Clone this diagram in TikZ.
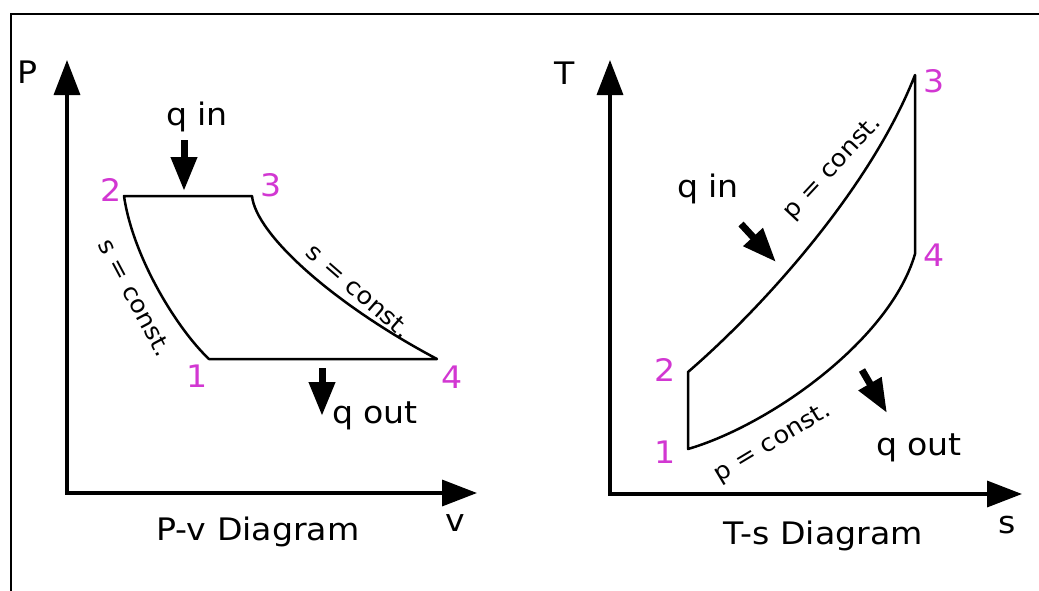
\documentclass[tikz,border=0pt]{standalone}
\usepackage{fontspec}
\setmainfont{DejaVu Sans}[FakeStretch=1.07]
\usetikzlibrary{arrows.meta}
\definecolor{mag}{RGB}{210,55,210}
\begin{document}
\begin{tikzpicture}[x=1pt,y=-1pt,
  lbl/.style={font=\fontsize{31}{36}\selectfont, inner sep=0pt},
  num/.style={lbl, text=mag},
  clbl/.style={font=\fontsize{24}{28}\selectfont, inner sep=0pt},
  axisline/.style={line width=3.5pt, line join=miter,
    {Triangle[length=35pt,width=26pt]}-{Triangle[length=35pt,width=26pt]}},
  loopline/.style={line width=2.5pt, line join=round},
  heat/.style={line width=7pt, -{Triangle[length=34pt,width=25pt]}}]
\useasboundingbox (0,0) rectangle (1039,590);
\clip (0,0) rectangle (1039,590);
\fill[white] (0,0) rectangle (1039,590);
\draw[line width=2.5pt] (11,14) rectangle (1100,700);

% ---------- P-v diagram ----------
\coordinate (ao) at (67,493);
\coordinate (ay) at (67,60);
\coordinate (ax) at (477,493);
\draw[axisline] (ay) -- (ao) -- (ax);
\node[lbl] (P) at (28,72) {P};
\node[lbl] (v) at (455,523) {v};
\node[lbl, anchor=base] (pvd) at (258,540) {P-v Diagram};

\coordinate (a1) at (209,359);
\coordinate (a2) at (124,196);
\coordinate (a3) at (252,196);
\coordinate (a4) at (437,359);
\draw[loopline] (a1) -- (a4) .. controls (335,305) and (256,235) .. (a3) -- (a2)
  .. controls (133,258) and (178,330) .. (a1) -- cycle;
\node[num] (n2a) at (111,190) {2};
\node[num] (n3a) at (271,185) {3};
\node[num] (n1a) at (197,376) {1};
\node[num] (n4a) at (452,377) {4};
\node[clbl, rotate=-62] (sl) at (135,298) {s = const.};
\node[clbl, rotate=-41] (sr) at (359,291) {s = const.};

\node[lbl, anchor=base] (qina) at (197,125) {q in};
\coordinate (qa1) at (184,140);
\coordinate (qa2) at (184,191);
\draw[heat] (qa1) -- (qa2);
\node[lbl, anchor=base] (qouta) at (375,423) {q out};
\coordinate (qb1) at (322,368);
\coordinate (qb2) at (322,416);
\draw[heat] (qb1) -- (qb2);

% ---------- T-s diagram ----------
\coordinate (bo) at (610,494);
\coordinate (by) at (610,60);
\coordinate (bx) at (1022,494);
\draw[axisline] (by) -- (bo) -- (bx);
\node[lbl] (T) at (565,73) {T};
\node[lbl] (s) at (1007,525) {s};
\node[lbl, anchor=base] (tsd) at (823,544) {T-s Diagram};

\coordinate (b1) at (688,449);
\coordinate (b2) at (688,372);
\coordinate (b3) at (915,75);
\coordinate (b4) at (915,254);
\draw[loopline] (b1) -- (b2) .. controls (760,310) and (870,190) .. (b3) -- (b4)
  .. controls (890,340) and (770,425) .. (b1) -- cycle;
\node[num] (n3b) at (934,81) {3};
\node[num] (n4b) at (934,255) {4};
\node[num] (n2b) at (665,370) {2};
\node[num] (n1b) at (665,452) {1};
\node[clbl, rotate=47] (pu) at (833,168) {p = const.};
\node[clbl, rotate=31] (pl) at (773,443) {p = const.};

\node[lbl, anchor=base] (qinb) at (708,197) {q in};
\coordinate (qc1) at (741,224);
\coordinate (qc2) at (776,262);
\draw[heat] (qc1) -- (qc2);
\node[lbl, anchor=base] (qoutb) at (919,455) {q out};
\coordinate (qd1) at (862,370);
\coordinate (qd2) at (887,413);
\draw[heat] (qd1) -- (qd2);
\end{tikzpicture}
\end{document}
